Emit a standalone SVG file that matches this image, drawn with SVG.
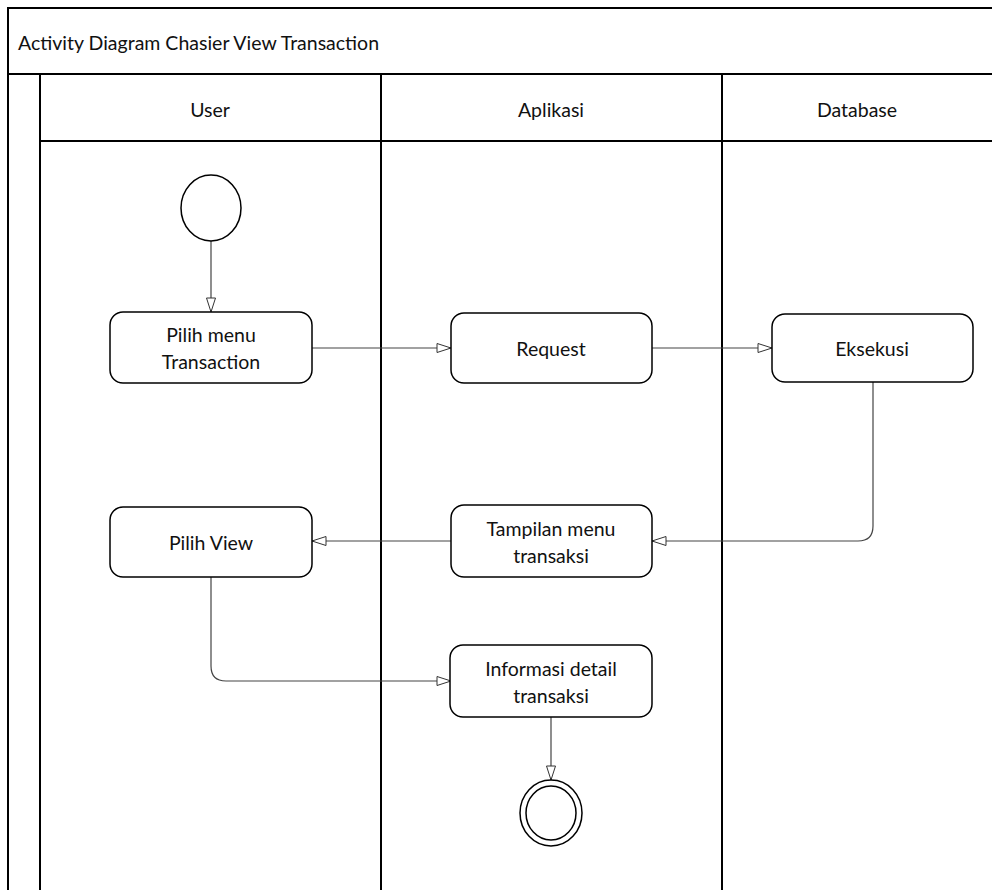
<svg xmlns="http://www.w3.org/2000/svg" width="992" height="890" viewBox="0 0 992 890">
<defs>
<style>
.lane{fill:none;stroke:#000;stroke-width:2}
.node{fill:#fff;stroke:#000;stroke-width:1.5}
.conn{fill:none;stroke:#444;stroke-width:1.2}
.t{font-family:Lato,"Open Sans","Liberation Sans",sans-serif;font-size:19.5px;fill:#111;text-anchor:middle;dominant-baseline:central}
</style>
<marker id="arr" markerWidth="17" markerHeight="12" refX="15" refY="5.5" orient="auto" markerUnits="userSpaceOnUse">
<path d="M1,1 L15,5.5 L1,10 Z" fill="#fff" stroke="#333" stroke-width="1"/>
</marker>
</defs>
<rect width="992" height="890" fill="#fff"/>
<g id="pool">
<rect class="lane" x="8" y="8" width="990" height="890"/>
<line class="lane" x1="8" y1="74" x2="992" y2="74"/>
<line class="lane" x1="40" y1="74" x2="40" y2="890"/>
<line class="lane" x1="40" y1="141" x2="992" y2="141"/>
<line class="lane" x1="381" y1="74" x2="381" y2="890"/>
<line class="lane" x1="722" y1="74" x2="722" y2="890"/>
<text class="t" x="18" y="42" style="text-anchor:start">Activity Diagram Chasier View Transaction</text>
<text class="t" x="210" y="109">User</text>
<text class="t" x="551" y="109">Aplikasi</text>
<text class="t" x="857" y="109">Database</text>
</g>
<g id="connectors">
<line class="conn" x1="211" y1="241" x2="211" y2="312" marker-end="url(#arr)"/>
<line class="conn" x1="312" y1="348" x2="451" y2="348" marker-end="url(#arr)"/>
<line class="conn" x1="652" y1="348" x2="772" y2="348" marker-end="url(#arr)"/>
<path class="conn" d="M873,381 V526 Q873,541 858,541 H652" marker-end="url(#arr)"/>
<line class="conn" x1="451" y1="541" x2="312" y2="541" marker-end="url(#arr)"/>
<path class="conn" d="M211,577 V666 Q211,681 226,681 H451" marker-end="url(#arr)"/>
<line class="conn" x1="551" y1="717" x2="551" y2="780" marker-end="url(#arr)"/>
</g>
<g id="start">
<ellipse class="node" cx="211" cy="208" rx="30" ry="33"/>
</g>
<g id="pilih-menu">
<rect class="node" x="110" y="312" width="202" height="71" rx="13"/>
<text class="t" x="211" y="334">Pilih menu</text>
<text class="t" x="211" y="361">Transaction</text>
</g>
<g id="request">
<rect class="node" x="451" y="313" width="201" height="70" rx="13"/>
<text class="t" x="551" y="348">Request</text>
</g>
<g id="eksekusi">
<rect class="node" x="772" y="314" width="201" height="68" rx="13"/>
<text class="t" x="872" y="348">Eksekusi</text>
</g>
<g id="tampilan">
<rect class="node" x="451" y="505" width="201" height="72" rx="13"/>
<text class="t" x="551" y="528">Tampilan menu</text>
<text class="t" x="551" y="555">transaksi</text>
</g>
<g id="pilih-view">
<rect class="node" x="110" y="507" width="202" height="70" rx="13"/>
<text class="t" x="211" y="542">Pilih View</text>
</g>
<g id="informasi">
<rect class="node" x="450" y="645" width="202" height="72" rx="13"/>
<text class="t" x="551" y="668">Informasi detail</text>
<text class="t" x="551" y="695">transaksi</text>
</g>
<g id="end">
<ellipse class="node" cx="551" cy="813" rx="31" ry="33"/>
<ellipse class="node" cx="551" cy="813" rx="25" ry="27"/>
</g>
</svg>
